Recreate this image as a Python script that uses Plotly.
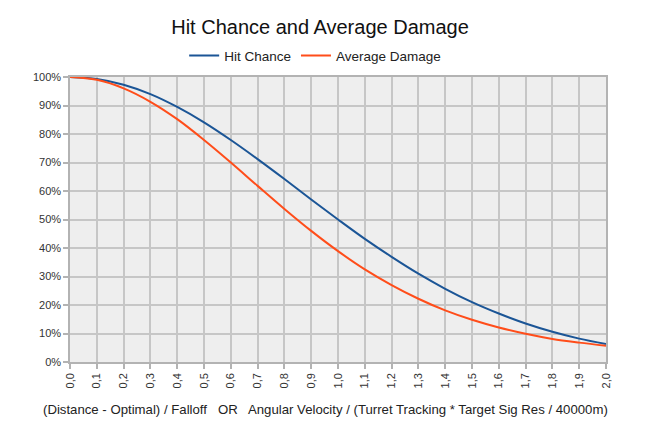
import plotly.graph_objects as go

x_vals = [0.0, 0.1, 0.2, 0.3, 0.4, 0.5, 0.6, 0.7, 0.8, 0.9, 1.0,
          1.1, 1.2, 1.3, 1.4, 1.5, 1.6, 1.7, 1.8, 1.9, 2.0]
hit_chance = [1.000, 0.993, 0.973, 0.940, 0.895, 0.841, 0.779, 0.712, 0.642, 0.570, 0.500,
              0.432, 0.369, 0.310, 0.257, 0.210, 0.170, 0.135, 0.106, 0.082, 0.063]
avg_damage = [1.000, 0.990, 0.960, 0.913, 0.852, 0.779, 0.700, 0.618, 0.537, 0.460, 0.389,
              0.325, 0.270, 0.222, 0.181, 0.148, 0.121, 0.099, 0.081, 0.068, 0.057]
x_ticks = [0.0, 0.1, 0.2, 0.3, 0.4, 0.5, 0.6, 0.7, 0.8, 0.9, 1.0,
           1.1, 1.2, 1.3, 1.4, 1.5, 1.6, 1.7, 1.8, 1.9, 2.0]
x_tick_labels = ["0,0", "0,1", "0,2", "0,3", "0,4", "0,5", "0,6", "0,7", "0,8", "0,9", "1,0",
                 "1,1", "1,2", "1,3", "1,4", "1,5", "1,6", "1,7", "1,8", "1,9", "2,0"]
y_ticks = [0.0, 0.1, 0.2, 0.3, 0.4, 0.5, 0.6, 0.7, 0.8, 0.9, 1.0]
y_tick_labels = ["0%", "10%", "20%", "30%", "40%", "50%", "60%", "70%", "80%", "90%", "100%"]
x_title = "(Distance - Optimal) / Falloff   OR   Angular Velocity / (Turret Tracking * Target Sig Res / 40000m)"

fig = go.Figure()
fig.add_trace(go.Scatter(x=x_vals, y=hit_chance, mode="lines", name="Hit Chance",
                         line=dict(color="#1b5596", width=2, shape="spline")))
fig.add_trace(go.Scatter(x=x_vals, y=avg_damage, mode="lines", name="Average Damage",
                         line=dict(color="#ff4d1a", width=2, shape="spline")))

axis_common = dict(showline=True, linecolor="#b3b3b3", linewidth=1.5, mirror=True,
                   showgrid=True, gridcolor="#c6c6c6", gridwidth=1.5,
                   ticks="outside", ticklen=5, tickcolor="#b3b3b3", tickwidth=1.5,
                   zeroline=False, automargin=False,
                   tickfont=dict(size=11, color="#333333"))

fig.update_layout(
    width=650, height=431,
    paper_bgcolor="white", plot_bgcolor="#eeeeee",
    font=dict(family="Liberation Sans, Arial, sans-serif", color="#222222"),
    title=dict(text="Hit Chance and Average Damage", x=0.48, xanchor="center",
               y=0.956, yanchor="middle", font=dict(size=20, color="#111111")),
    legend=dict(orientation="h", x=0.213, xanchor="left", y=1.075, yanchor="middle",
                font=dict(size=13.5, color="#222222"), bgcolor="rgba(0,0,0,0)",
                itemwidth=30),
    margin=dict(l=62, r=52, t=69, b=77),
    showlegend=True,
)
fig.add_annotation(text=x_title, xref="paper", yref="paper", x=0.4776, y=-0.165,
                   xanchor="center", yanchor="middle", showarrow=False,
                   font=dict(size=13.2, color="#222222"))
fig.update_xaxes(range=[0, 2], tickvals=x_ticks, ticktext=x_tick_labels, tickangle=-90,
                 **axis_common)
fig.update_yaxes(range=[0, 1], tickvals=y_ticks, ticktext=y_tick_labels, **axis_common)

fig.write_html("out.html")
